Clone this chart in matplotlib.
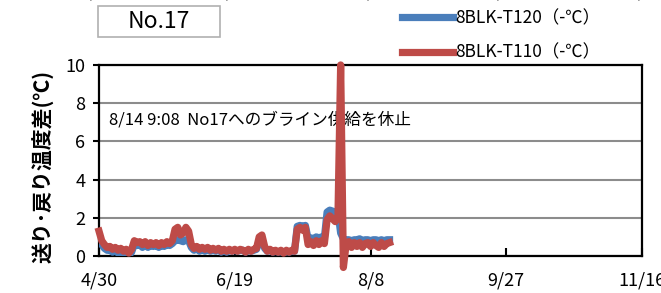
import matplotlib
matplotlib.use('Agg')
import matplotlib.pyplot as plt
from matplotlib.patches import Rectangle

plt.rcParams['font.family'] = ['Noto Sans CJK JP', 'DejaVu Sans']

# 日付ラベル（4/30 からの経過日数で 50 日おき）
tick_days = [0, 50, 100, 150, 200]
tick_labels = ['4/30', '6/19', '8/8', '9/27', '11/16']

# 経過日数 0..107
days = list(range(108))

t110 = [1.3, 0.8, 0.6, 0.45, 0.5, 0.35, 0.45, 0.3, 0.4, 0.25,
        0.35, 0.15, 0.35, 0.8, 0.7, 0.75, 0.6, 0.75, 0.55, 0.7,
        0.6, 0.7, 0.55, 0.7, 0.6, 0.75, 0.65, 0.8, 1.4, 1.5,
        1.1, 1.2, 1.5, 1.3, 0.6, 0.4, 0.5, 0.35, 0.45, 0.35,
        0.45, 0.3, 0.4, 0.3, 0.4, 0.25, 0.35, 0.25, 0.35, 0.25,
        0.35, 0.25, 0.35, 0.3, 0.2, 0.35, 0.25, 0.35, 0.4, 1.0,
        1.1, 0.5, 0.25, 0.35, 0.2, 0.3, 0.2, 0.3, 0.15, 0.3,
        0.2, 0.3, 0.25, 1.4, 1.5, 1.35, 1.5, 0.6, 0.75, 0.55,
        0.8, 0.6, 0.8, 0.65, 1.9, 2.1, 1.95, 1.8, 2.0, 10.0,
        -0.6, 0.6, 0.75, 0.45, 0.7, 0.5, 0.7, 0.45, 0.65, 0.7,
        0.5, 0.7, 0.55, 0.45, 0.7, 0.5, 0.65, 0.7]

t120 = [1.1, 0.6, 0.4, 0.3, 0.3, 0.2, 0.3, 0.15, 0.25, 0.1,
        0.2, 0.05, 0.2, 0.6, 0.55, 0.6, 0.45, 0.6, 0.45, 0.55,
        0.5, 0.55, 0.45, 0.55, 0.5, 0.6, 0.55, 0.65, 0.8, 0.85,
        0.8, 0.75, 0.85, 0.8, 0.45, 0.3, 0.4, 0.25, 0.35, 0.25,
        0.35, 0.25, 0.3, 0.25, 0.35, 0.2, 0.3, 0.2, 0.3, 0.25,
        0.3, 0.25, 0.3, 0.3, 0.2, 0.3, 0.25, 0.3, 0.35, 0.8,
        0.9, 0.4, 0.25, 0.3, 0.2, 0.25, 0.2, 0.25, 0.15, 0.25,
        0.2, 0.25, 0.25, 1.55, 1.6, 1.55, 1.6, 0.9, 0.95, 0.9,
        1.0, 0.95, 1.0, 0.95, 2.3, 2.4, 2.35, 2.3, 2.3, 1.2,
        0.9, 0.85, 0.85, 0.8, 0.85, 0.85, 0.9, 0.8, 0.85, 0.85,
        0.8, 0.85, 0.85, 0.8, 0.85, 0.8, 0.85, 0.85]

fig = plt.figure(figsize=(6.61, 2.93), dpi=100)
ax = fig.add_axes([0.1498, 0.1263, 0.8215, 0.652])

ax.plot(days, t120, color='#4a7ebb', lw=5.2, solid_joinstyle='round', label='8BLK-T120（-℃）', zorder=3)
ax.plot(days, t110, color='#be4b48', lw=5.2, solid_joinstyle='round', label='8BLK-T110（-℃）', zorder=4, clip_on=False)

ax.set_xlim(0, 200)
ax.set_ylim(0, 10)
ax.set_yticks([0, 2, 4, 6, 8, 10])
ax.set_xticks(tick_days)
ax.set_xticklabels(tick_labels)
ax.tick_params(axis='y', direction='out', length=4, width=1.5, labelsize=13, pad=6)
ax.tick_params(axis='x', direction='in', length=6, width=1.5, labelsize=13, pad=11)
ax.yaxis.grid(True, color='#8c8c8c', lw=1.5)
ax.set_axisbelow(True)
for s in ax.spines.values():
    s.set_linewidth(1.6)
    s.set_color('black')

ax.set_ylabel('送り･戻り温度差(℃)', fontsize=15, fontweight='bold')
ax.yaxis.set_label_coords(-0.082, 0.47)

ax.text(3.5, 7.1, '8/14 9:08  No17へのブライン供給を休止', fontsize=12, va='center')

# 凡例
fig.legend(loc='upper left', bbox_to_anchor=(0.585, 1.022), frameon=False,
           fontsize=12.5, handlelength=2.9, handletextpad=0.15, labelspacing=0.95)

# タイトルボックス
fig.patches.append(Rectangle((98 / 661, 1 - 37 / 293), 122 / 661, 31 / 293,
                             transform=fig.transFigure, fill=False,
                             edgecolor='#b0b0b0', lw=1.2))
fig.text(159 / 661, 1 - 21 / 293, 'No.17', fontsize=16.5, ha='center', va='center')

# 上のグラフの日付ラベル（切れている）
for d, lab in zip(tick_days, tick_labels):
    fig.text((99 + d * 2.715) / 661, 1.028, lab, fontsize=13, ha='center', va='center')

fig.savefig('out.png', dpi=100)
